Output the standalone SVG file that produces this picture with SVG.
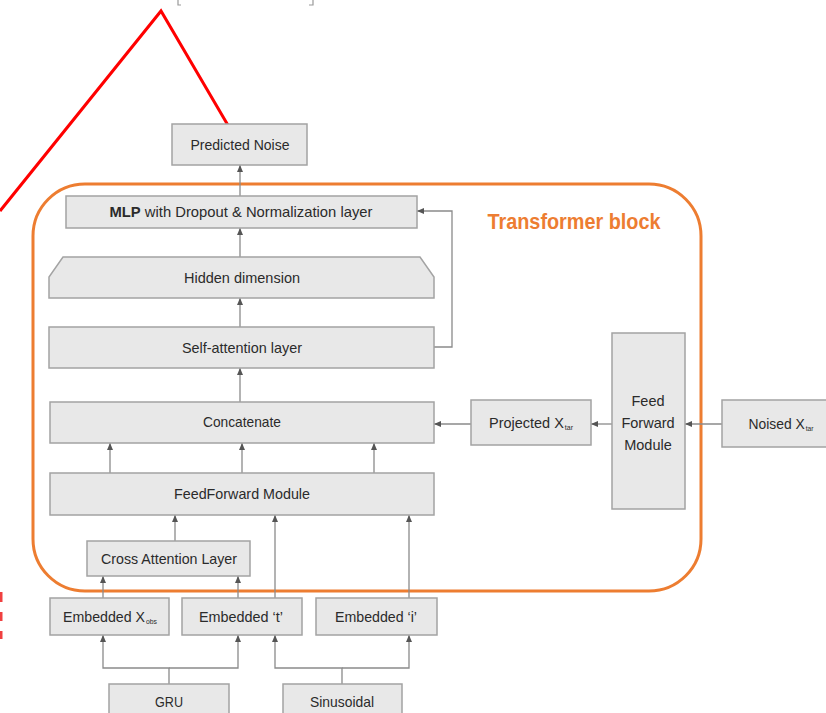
<svg xmlns="http://www.w3.org/2000/svg" width="826" height="713" viewBox="0 0 826 713">
<style>
.box{fill:#e8e8e8;stroke:#a3a3a3;stroke-width:1.5}
.t{font-family:"Liberation Sans",Arial,sans-serif;font-size:14.5px;fill:#2b2b2b;text-anchor:middle}
.sub{font-size:7px}
.c{fill:none;stroke:#8a8a8a;stroke-width:1.3}
.red{fill:none;stroke:#ff0000;stroke-width:3}
</style>
<defs>
<marker id="ah" markerUnits="userSpaceOnUse" markerWidth="7" markerHeight="6" refX="7" refY="3" orient="auto">
<path d="M0,0 L7,3 L0,6 z" fill="#555"/>
</marker>
</defs>
<rect width="826" height="713" fill="#ffffff"/>

<!-- cropped text fragments at top -->
<g id="top-fragment" fill="none" stroke="#999999" stroke-width="1.2">
<path d="M181,5 H178 V0"/>
<path d="M309,5 H313 V0"/>
</g>

<!-- red annotation -->
<g id="annotation">
<polyline class="red" points="0,211 161,11 229,127"/>
<rect x="0" y="592" width="2.5" height="10" fill="#f04040"/>
<rect x="0" y="612" width="2.5" height="9" fill="#f04040"/>
<rect x="0" y="631" width="2.5" height="8" fill="#f04040"/>
</g>

<!-- transformer block container -->
<g id="transformer-block">
<rect x="33" y="184" width="668" height="407" rx="52" ry="52" fill="none" stroke="#ed7d31" stroke-width="3"/>
<text x="574" y="229" font-family="'Liberation Sans',Arial,sans-serif" font-size="22" font-weight="bold" fill="#ed7d31" text-anchor="middle" textLength="173" lengthAdjust="spacingAndGlyphs">Transformer block</text>
</g>

<!-- connectors -->
<g id="connectors">
<line class="c" x1="240" y1="196" x2="240" y2="165" marker-end="url(#ah)"/>
<line class="c" x1="240" y1="257" x2="240" y2="228" marker-end="url(#ah)"/>
<line class="c" x1="240" y1="327" x2="240" y2="298" marker-end="url(#ah)"/>
<line class="c" x1="240" y1="402" x2="240" y2="368" marker-end="url(#ah)"/>
<polyline class="c" points="434,347 452,347 452,211 417,211" marker-end="url(#ah)"/>
<line class="c" x1="110" y1="473" x2="110" y2="443" marker-end="url(#ah)"/>
<line class="c" x1="242" y1="473" x2="242" y2="443" marker-end="url(#ah)"/>
<line class="c" x1="374" y1="473" x2="374" y2="443" marker-end="url(#ah)"/>
<line class="c" x1="175" y1="541" x2="175" y2="515" marker-end="url(#ah)"/>
<line class="c" x1="275" y1="598" x2="275" y2="515" marker-end="url(#ah)"/>
<line class="c" x1="409" y1="598" x2="409" y2="515" marker-end="url(#ah)"/>
<line class="c" x1="103" y1="598" x2="103" y2="576" marker-end="url(#ah)"/>
<line class="c" x1="238" y1="598" x2="238" y2="576" marker-end="url(#ah)"/>
<polyline class="c" points="169,684 169,668 103,668 103,635" marker-end="url(#ah)"/>
<polyline class="c" points="169,668 238,668 238,635" marker-end="url(#ah)"/>
<polyline class="c" points="342,684 342,668 275,668 275,635" marker-end="url(#ah)"/>
<polyline class="c" points="342,668 409,668 409,635" marker-end="url(#ah)"/>
<line class="c" x1="471" y1="424" x2="434" y2="424" marker-end="url(#ah)"/>
<line class="c" x1="612" y1="424" x2="591" y2="424" marker-end="url(#ah)"/>
<line class="c" x1="722" y1="424" x2="685" y2="424" marker-end="url(#ah)"/>
</g>

<g id="predicted-noise">
<rect class="box" x="172" y="124" width="135" height="41"/>
<text class="t" x="240" y="150" textLength="99" lengthAdjust="spacingAndGlyphs">Predicted Noise</text>
</g>

<g id="mlp">
<rect class="box" x="66" y="196" width="351" height="32"/>
<text class="t" x="241" y="217" textLength="263" lengthAdjust="spacingAndGlyphs"><tspan font-weight="bold">MLP</tspan> with Dropout &amp; Normalization layer</text>
</g>

<g id="hidden-dimension">
<polygon class="box" points="63,257 420,257 434,277 434,298 49,298 49,277"/>
<text class="t" x="242" y="283" textLength="116" lengthAdjust="spacingAndGlyphs">Hidden dimension</text>
</g>

<g id="self-attention">
<rect class="box" x="49" y="327" width="385" height="41"/>
<text class="t" x="242" y="353" textLength="120" lengthAdjust="spacingAndGlyphs">Self-attention layer</text>
</g>

<g id="concatenate">
<rect class="box" x="50" y="402" width="384" height="41"/>
<text class="t" x="242" y="427" textLength="78" lengthAdjust="spacingAndGlyphs">Concatenate</text>
</g>

<g id="feedforward-module">
<rect class="box" x="50" y="473" width="384" height="42"/>
<text class="t" x="242" y="499" textLength="136" lengthAdjust="spacingAndGlyphs">FeedForward Module</text>
</g>

<g id="cross-attention">
<rect class="box" x="87" y="541" width="163" height="35"/>
<text class="t" x="169" y="564" textLength="136" lengthAdjust="spacingAndGlyphs">Cross Attention Layer</text>
</g>

<g id="embedded-xobs">
<rect class="box" x="50" y="598" width="119" height="37"/>
<text class="t" x="110" y="622" textLength="94" lengthAdjust="spacingAndGlyphs">Embedded X<tspan class="sub" dx="1" dy="2">obs</tspan></text>
</g>

<g id="embedded-t">
<rect class="box" x="182" y="598" width="120" height="37"/>
<text class="t" x="241" y="622" textLength="84" lengthAdjust="spacingAndGlyphs">Embedded ‘t’</text>
</g>

<g id="embedded-i">
<rect class="box" x="316" y="598" width="121" height="37"/>
<text class="t" x="376" y="622" textLength="82" lengthAdjust="spacingAndGlyphs">Embedded ‘i’</text>
</g>

<g id="gru">
<rect class="box" x="109" y="684" width="120" height="40"/>
<text class="t" x="169" y="707" textLength="28" lengthAdjust="spacingAndGlyphs">GRU</text>
</g>

<g id="sinusoidal">
<rect class="box" x="283" y="684" width="119" height="40"/>
<text class="t" x="342" y="707" textLength="64" lengthAdjust="spacingAndGlyphs">Sinusoidal</text>
</g>

<g id="projected-xtar">
<rect class="box" x="471" y="400" width="120" height="45"/>
<text class="t" x="531" y="428" textLength="84" lengthAdjust="spacingAndGlyphs">Projected X<tspan class="sub" dx="1" dy="2">tar</tspan></text>
</g>

<g id="feed-forward-module-right">
<rect class="box" x="612" y="333" width="73" height="176"/>
<text class="t" x="648" y="406">Feed</text>
<text class="t" x="648" y="428">Forward</text>
<text class="t" x="648" y="450">Module</text>
</g>

<g id="noised-xtar">
<rect class="box" x="722" y="400" width="112" height="47"/>
<text class="t" x="781" y="429" textLength="65" lengthAdjust="spacingAndGlyphs">Noised X<tspan class="sub" dx="1" dy="2">tar</tspan></text>
</g>
</svg>
